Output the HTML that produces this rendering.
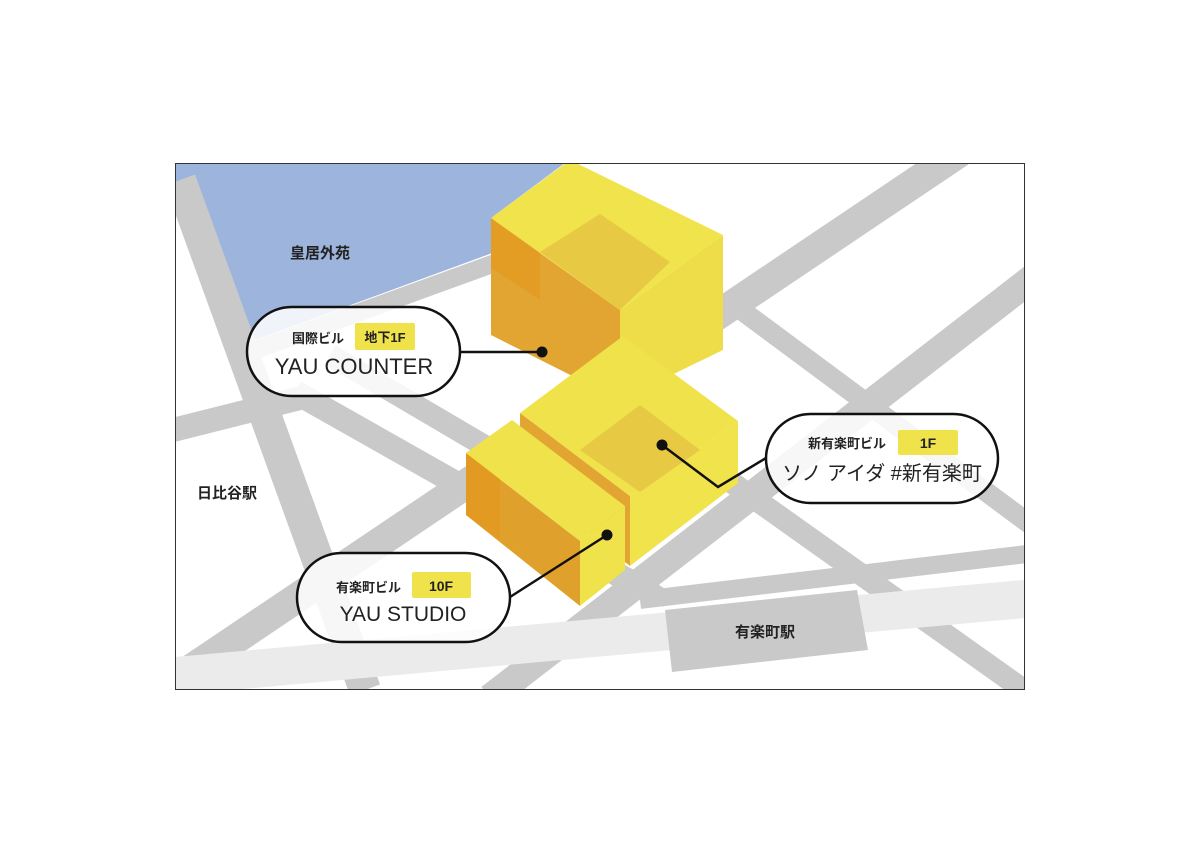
<!DOCTYPE html>
<html><head><meta charset="utf-8"><style>
html,body{margin:0;padding:0;background:#fff;}
svg{display:block}
text{font-family:"Liberation Sans","Noto Sans CJK JP",sans-serif;fill:#222}
</style></head><body>
<svg width="1200" height="855" viewBox="0 0 1200 855" xmlns="http://www.w3.org/2000/svg">
<defs><clipPath id="c"><rect x="175" y="163" width="850" height="527"/></clipPath></defs>
<rect width="1200" height="855" fill="#fff"/>
<g clip-path="url(#c)">
 <polygon points="175,163 565,163 495,215 495,252 250,342 190,200 175,200" fill="#9db4dc"/>
 <g stroke="#c9c9c9" stroke-linecap="butt" fill="none">
  <line x1="180" y1="180" x2="365" y2="690" stroke-width="32"/>
  <line x1="250" y1="352" x2="495" y2="263" stroke-width="18"/>
  <line x1="165" y1="432" x2="300" y2="398" stroke-width="24"/>
  <line x1="295" y1="392" x2="645" y2="590" stroke-width="24"/>
  <line x1="330" y1="355" x2="500" y2="455" stroke-width="22"/>
  <line x1="960" y1="152" x2="160" y2="690" stroke-width="30"/>
  <line x1="1035" y1="276" x2="490" y2="698" stroke-width="28"/>
  <line x1="725" y1="298" x2="1035" y2="528" stroke-width="20"/>
  <line x1="700" y1="460" x2="1035" y2="698" stroke-width="22"/>
  <line x1="640" y1="600" x2="1035" y2="553" stroke-width="18"/>
  <line x1="636" y1="580" x2="668" y2="600" stroke-width="16"/>
 </g>
 <line x1="165" y1="677" x2="1035" y2="598" stroke="#ebebeb" stroke-width="38"/>
 <polygon points="665,610 857,590 868,650 672,672" fill="#c9c9c9"/>
 <polygon points="491,218 620,310 620,400 491,335" fill="#e2a532"/>
 <polygon points="491,218 540,252 540,300 491,268" fill="#e39b22" opacity="0.8"/>
 <polygon points="620,310 723,235 723,350 620,400" fill="#eedd48"/>
 <polygon points="491,218 570,160 723,235 620,310" fill="#f0e34c"/>
 <polygon points="540,252 600,214 670,262 620,310" fill="#e8c944"/>
 <polygon points="520,413 630,496 630,566 520,480" fill="#e2a532"/>
 <polygon points="630,496 738,421 738,483 630,566" fill="#f0e34c"/>
 <polygon points="520,413 623,336 738,421 630,496" fill="#f0e24a"/>
 <polygon points="580,450 640,405 700,450 640,492" fill="#e8c944"/>
 <polygon points="466,453 580,541 580,606 466,515" fill="#e0a02c"/>
 <polygon points="466,453 500,478 500,540 466,515" fill="#e39a22"/>
 <polygon points="580,541 625,506 625,570 580,606" fill="#f0e24a"/>
 <polygon points="466,453 512,420 625,506 580,541" fill="#f0e24a"/>
</g>
<rect x="175.5" y="163.5" width="849" height="526" fill="none" stroke="#333" stroke-width="1"/>
<text x="290" y="258" font-size="15" font-weight="bold">皇居外苑</text>
<text x="197" y="498" font-size="15" font-weight="bold">日比谷駅</text>
<text x="735" y="637" font-size="15" font-weight="bold">有楽町駅</text>
<g stroke="#111" stroke-width="2.5" fill="none">
 <line x1="460" y1="352" x2="542" y2="352"/>
 <polyline points="662,445 718,487 766,458"/>
 <line x1="510" y1="597" x2="607" y2="535"/>
</g>
<circle cx="542" cy="352" r="5.5" fill="#111"/>
<circle cx="662" cy="445" r="5.5" fill="#111"/>
<circle cx="607" cy="535" r="5.5" fill="#111"/>
<rect x="247" y="307" width="213" height="89" rx="44.5" fill="rgba(255,255,255,0.85)" stroke="#111" stroke-width="2.5"/>
<text x="292" y="343" font-size="13" font-weight="bold">国際ビル</text>
<rect x="355" y="323" width="60" height="27" rx="2" fill="#f0e24a"/>
<text x="385" y="342" font-size="13" font-weight="bold" text-anchor="middle">地下1F</text>
<text x="354" y="374" font-size="22" text-anchor="middle">YAU COUNTER</text>
<rect x="766" y="414" width="232" height="89" rx="44.5" fill="rgba(255,255,255,0.85)" stroke="#111" stroke-width="2.5"/>
<text x="808" y="448" font-size="13" font-weight="bold">新有楽町ビル</text>
<rect x="898" y="430" width="60" height="25" rx="2" fill="#f0e24a"/>
<text x="928" y="448" font-size="14" font-weight="bold" text-anchor="middle">1F</text>
<text x="882" y="480" font-size="20" text-anchor="middle">ソノ アイダ #新有楽町</text>
<rect x="297" y="553" width="213" height="89" rx="44.5" fill="rgba(255,255,255,0.85)" stroke="#111" stroke-width="2.5"/>
<text x="336" y="592" font-size="13" font-weight="bold">有楽町ビル</text>
<rect x="412" y="572" width="59" height="26" rx="2" fill="#f0e24a"/>
<text x="441" y="591" font-size="14" font-weight="bold" text-anchor="middle">10F</text>
<text x="403" y="621" font-size="21" text-anchor="middle">YAU STUDIO</text>
</svg>
</body></html>
